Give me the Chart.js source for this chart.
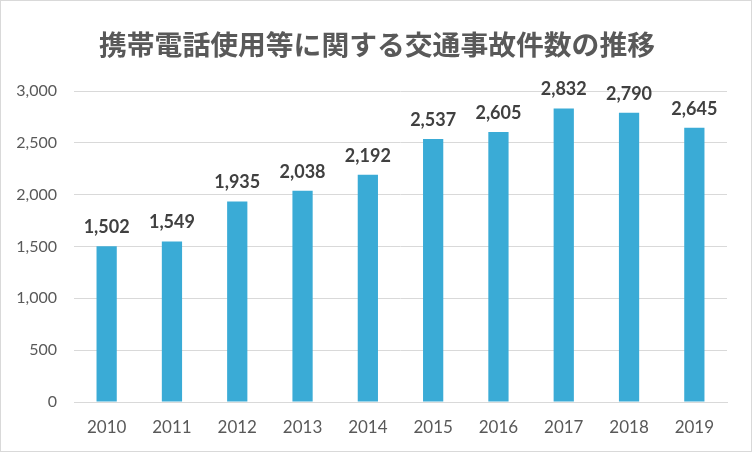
<!DOCTYPE html>
<html><head><meta charset="utf-8">
<script src="https://cdn.jsdelivr.net/npm/chart.js@4"></script>
<style>html,body{margin:0;padding:0;background:#fff}#w{width:752px;height:452px;position:relative}</style>
</head><body><div id="w"><canvas id="c" width="752" height="452"></canvas></div>
<script>
const TITLE = '携帯電話使用等に関する交通事故件数の推移';
const categories = ['2010','2011','2012','2013','2014','2015','2016','2017','2018','2019'];
const accidents = [1502,1549,1935,2038,2192,2537,2605,2832,2790,2645];
const yTicks = [0,500,1000,1500,2000,2500,3000];

const numFont = "Lato, 'Open Sans', 'Noto Sans', sans-serif";

const decorPlugin = {
  id:'decor',
  afterDraw(chart){
    const ctx = chart.ctx;
    ctx.save();
    ctx.strokeStyle = '#d9d9d9';
    ctx.lineWidth = 1;
    ctx.strokeRect(0.5,0.5,chart.width-1,chart.height-1);
    ctx.font = "bold 27.8px 'Noto Sans CJK JP', sans-serif";
    ctx.fillStyle = '#595959';
    ctx.textAlign = 'center';
    ctx.textBaseline = 'middle';
    ctx.fillText(TITLE, chart.width/2 + 1, 44);
    ctx.restore();
  }
};
const labelPlugin = {
  id:'valueLabels',
  afterDatasetsDraw(chart){
    const ctx = chart.ctx;
    const meta = chart.getDatasetMeta(0);
    ctx.save();
    ctx.font = "bold 18px " + numFont;
    ctx.fillStyle = '#404040';
    ctx.textAlign = 'center';
    ctx.textBaseline = 'bottom';
    meta.data.forEach((bar,i)=>{
      ctx.fillText(accidents[i].toLocaleString('en-US'), bar.x, bar.y - 10);
    });
    ctx.restore();
  }
};

new Chart(document.getElementById('c'), {
  type:'bar',
  data:{labels:categories, datasets:[{data:accidents, backgroundColor:'#3AABD6', barPercentage:0.31, categoryPercentage:1}]},
  options:{
    responsive:false, animation:false,
    layout:{padding:{left:1,right:25,top:91,bottom:0}},
    plugins:{legend:{display:false}, tooltip:{enabled:false}, title:{display:false}},
    scales:{
      x:{
        grid:{display:false, drawTicks:false},
        border:{display:true,color:'#d9d9d9'},
        ticks:{color:'#595959', font:{family:numFont,size:17}, padding:15},
        afterFit(s){s.height=50;}
      },
      y:{
        min:0,max:3000,
        afterBuildTicks(s){s.ticks = yTicks.map(v=>({value:v}));},
        grid:{color:'#d9d9d9', drawTicks:false},
        border:{display:false},
        ticks:{color:'#595959', font:{family:numFont,size:16}, padding:17,
          callback:v=>v.toLocaleString('en-US')},
        afterFit(s){s.width=73;}
      }
    }
  },
  plugins:[decorPlugin,labelPlugin]
});
</script></body></html>
